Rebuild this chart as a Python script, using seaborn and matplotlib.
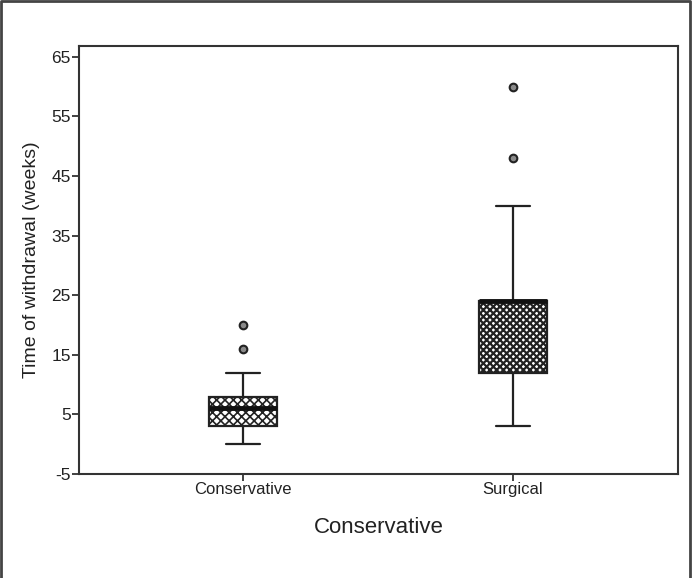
import numpy as np
import pandas as pd
import matplotlib
matplotlib.use("Agg")
import matplotlib.pyplot as plt
import seaborn as sns
from matplotlib.lines import Line2D

# ---- data ----
categories = ["Conservative", "Surgical"]
conservative_weeks = [0, 1, 2, 3, 4, 5, 6, 7, 7, 8, 12, 16, 20]
surgical_weeks = [3, 6, 10, 12, 15, 20, 24, 24, 24, 24, 40, 48, 60]
y_ticks = [-5, 5, 15, 25, 35, 45, 55, 65]

df = pd.DataFrame({
    "group": [categories[0]] * len(conservative_weeks) + [categories[1]] * len(surgical_weeks),
    "weeks": conservative_weeks + surgical_weeks,
})

sns.set_theme(style="white")
plt.rcParams["font.family"] = ["Liberation Sans", "DejaVu Sans"]
plt.rcParams["hatch.linewidth"] = 1.5

fig = plt.figure(figsize=(6.92, 5.78), dpi=100)
ax = fig.add_axes([79 / 692, 1 - 474 / 578, (678 - 79) / 692, (474 - 46) / 578])

sns.boxplot(
    data=df, x="group", y="weeks", order=categories, ax=ax,
    width=0.25, color="white", linecolor="#222222", linewidth=1.6,
    whis=1.5, capwidths=0.125,
    medianprops=dict(color="#111111", linewidth=3.5),
    flierprops=dict(marker="o", markerfacecolor="#8a8a8a", markeredgecolor="#222222",
                    markersize=5.5, markeredgewidth=1.5),
)

hatches = ["xxxx", "xxxxx"]
hatch_lw = [1.2, 1.6]
for patch, h, hl in zip(ax.patches, hatches, hatch_lw):
    patch.set_hatch(h)
    patch.set_edgecolor("#222222")
    patch.set_facecolor("white")
    if hasattr(patch, "set_hatch_linewidth"):
        patch.set_hatch_linewidth(hl)

ax.set_ylim(-5, 66.8)
ax.set_xlim(-0.607, 1.611)
ax.set_yticks(y_ticks)
ax.set_yticklabels([str(t) for t in y_ticks])

for s in ax.spines.values():
    s.set_visible(True)
    s.set_color("#333333")
    s.set_linewidth(1.5)

ax.tick_params(axis="both", which="both", direction="out", length=5, width=1.3,
               color="#333333", labelsize=12, labelcolor="#222222", pad=1,
               left=True, bottom=True)
ax.tick_params(axis="y", labelsize=12.5)
ax.set_ylabel("Time of withdrawal (weeks)", fontsize=14, color="#222222", labelpad=8)
ax.set_xlabel("Conservative", fontsize=16, color="#222222", labelpad=14)

# outer frame: left, top, right only
fig.lines.append(Line2D([0.0015, 0.0015, 0.9975, 0.9975], [0.0, 0.9975, 0.9975, 0.0],
                        transform=fig.transFigure, color="#444444", linewidth=2))

fig.savefig("out.png", dpi=100)
